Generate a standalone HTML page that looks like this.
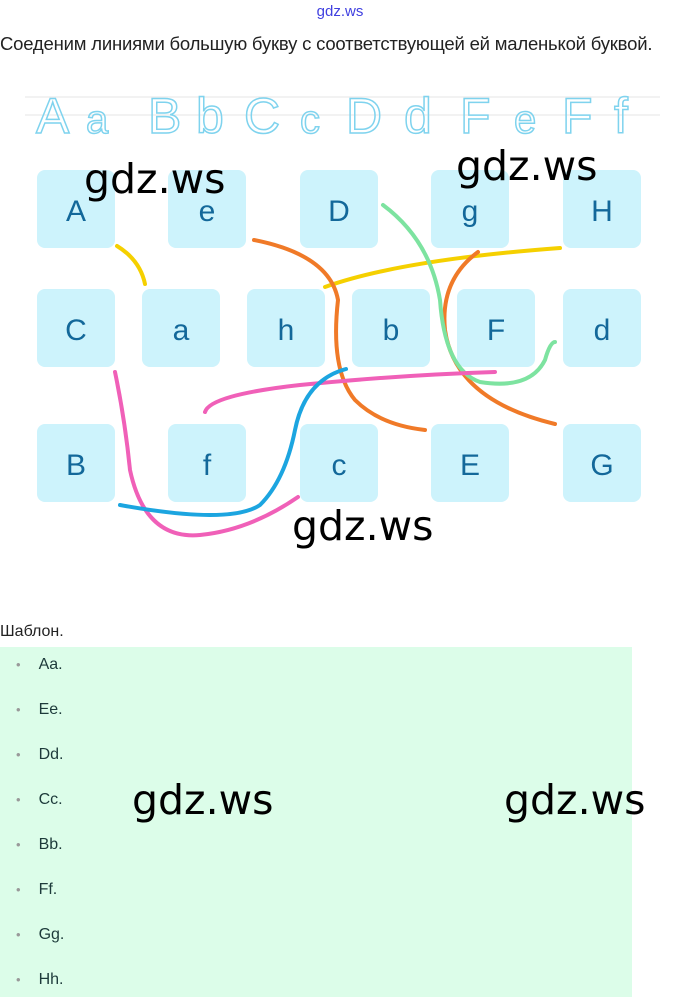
<!DOCTYPE html>
<html><head><meta charset="utf-8"><style>
body{margin:0;width:680px;height:997px;background:#fff;overflow:hidden;font-family:"Liberation Sans",sans-serif;position:relative}
.t{position:absolute}
</style></head><body>
<div class="t" style="left:0;top:3px;width:680px;text-align:center;font-size:15px;color:#4040e0">gdz.ws</div>
<div class="t" style="left:0;top:33px;font-size:18.5px;color:#222;white-space:nowrap;letter-spacing:-0.2px">Соеденим линиями большую букву с соответствующей ей маленькой буквой.</div>
<svg class="t" style="left:0;top:0" width="680" height="620">
<line x1="25" y1="97" x2="660" y2="97" stroke="#e6e6e6"/>
<line x1="25" y1="115" x2="660" y2="115" stroke="#e6e6e6"/>
<g font-family="Liberation Sans, sans-serif" font-size="50" fill="none" stroke="#7fd3ee" stroke-width="1.5">
<text x="36" y="133">A</text><text x="86" y="133" font-size="40">a</text>
<text x="148" y="133">B</text><text x="196" y="133">b</text>
<text x="244" y="133">C</text><text x="300" y="133" font-size="40">c</text>
<text x="346" y="133">D</text><text x="404" y="133">d</text>
<text x="460" y="133">F</text><text x="514" y="133" font-size="40">e</text>
<text x="562" y="133">F</text><text x="614" y="133">f</text>
</g>
<g fill="#cdf3fc">
<rect x="37" y="170" width="78" height="78" rx="8"/><rect x="168" y="170" width="78" height="78" rx="8"/><rect x="300" y="170" width="78" height="78" rx="8"/><rect x="431" y="170" width="78" height="78" rx="8"/><rect x="563" y="170" width="78" height="78" rx="8"/>
<rect x="37" y="289" width="78" height="78" rx="8"/><rect x="142" y="289" width="78" height="78" rx="8"/><rect x="247" y="289" width="78" height="78" rx="8"/><rect x="352" y="289" width="78" height="78" rx="8"/><rect x="457" y="289" width="78" height="78" rx="8"/><rect x="563" y="289" width="78" height="78" rx="8"/>
<rect x="37" y="424" width="78" height="78" rx="8"/><rect x="168" y="424" width="78" height="78" rx="8"/><rect x="300" y="424" width="78" height="78" rx="8"/><rect x="431" y="424" width="78" height="78" rx="8"/><rect x="563" y="424" width="78" height="78" rx="8"/>
</g>
<g font-size="30" fill="#13689a" text-anchor="middle" font-family="Liberation Sans, sans-serif">
<text x="76" y="221">A</text><text x="207" y="221">e</text><text x="339" y="221">D</text><text x="470" y="221">g</text><text x="602" y="221">H</text>
<text x="76" y="340">C</text><text x="181" y="340">a</text><text x="286" y="340">h</text><text x="391" y="340">b</text><text x="496" y="340">F</text><text x="602" y="340">d</text>
<text x="76" y="475">B</text><text x="207" y="475">f</text><text x="339" y="475">c</text><text x="470" y="475">E</text><text x="602" y="475">G</text>
</g>
<g fill="none" stroke-width="4" stroke-linecap="round">
<path d="M117 246 Q140 260 145 284" stroke="#f5d000"/>
<path d="M325 287 Q400 260 560 248" stroke="#f5d000"/>
<path d="M254 240 Q330 255 338 300 Q330 370 355 400 Q380 425 425 430" stroke="#f07a28"/>
<path d="M478 252 Q440 280 445 330 Q455 400 555 424" stroke="#f07a28"/>
<path d="M383 205 Q430 240 440 300 Q445 370 480 382 Q530 390 545 360 Q550 342 555 342" stroke="#7de3a0"/>
<path d="M205 412 Q210 395 300 385 Q400 375 495 372" stroke="#f060b8"/>
<path d="M115 372 Q125 420 130 470 Q145 540 200 535 Q250 530 298 497" stroke="#f060b8"/>
<path d="M346 369 Q305 380 295 430 Q285 480 260 505 Q230 525 120 505" stroke="#1ca5e0"/>
</g>
<g font-size="41" fill="#000" font-family="DejaVu Sans, sans-serif">
<text x="84" y="193">gdz.ws</text><text x="456" y="180">gdz.ws</text><text x="292" y="540">gdz.ws</text>
</g>
</svg>
<div class="t" style="left:0;top:623px;font-size:16px;color:#222">Шаблон.</div>
<div class="t" style="left:0;top:647px;width:632px;height:350px;background:#dcfde9"></div>
<div class="t" style="left:0;top:647px;font-size:16px;color:#1d3a3a">
<div style="position:absolute;top:-5px;left:16px;line-height:45px;white-space:nowrap">
<div><span style="color:#999;margin-right:18px;font-size:13px">•</span>Aa.</div>
<div><span style="color:#999;margin-right:18px;font-size:13px">•</span>Ee.</div>
<div><span style="color:#999;margin-right:18px;font-size:13px">•</span>Dd.</div>
<div><span style="color:#999;margin-right:18px;font-size:13px">•</span>Cc.</div>
<div><span style="color:#999;margin-right:18px;font-size:13px">•</span>Bb.</div>
<div><span style="color:#999;margin-right:18px;font-size:13px">•</span>Ff.</div>
<div><span style="color:#999;margin-right:18px;font-size:13px">•</span>Gg.</div>
<div><span style="color:#999;margin-right:18px;font-size:13px">•</span>Hh.</div>
</div></div>
<div class="t" style="left:132px;top:776px;font-size:41px;font-family:'DejaVu Sans',sans-serif">gdz.ws</div>
<div class="t" style="left:504px;top:776px;font-size:41px;font-family:'DejaVu Sans',sans-serif">gdz.ws</div>
</body></html>
